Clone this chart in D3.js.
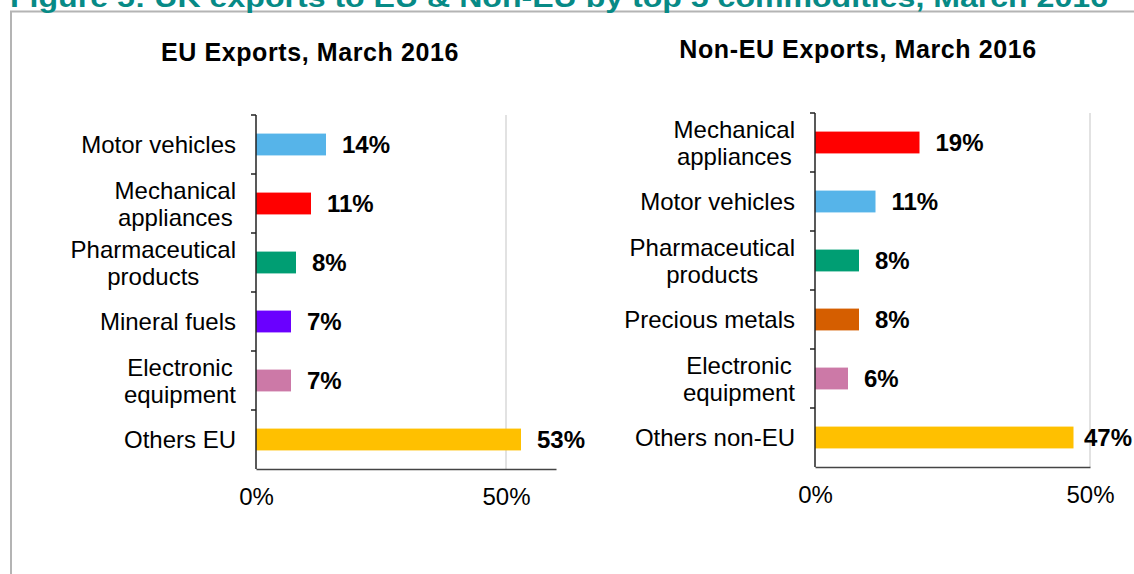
<!DOCTYPE html>
<html>
<head>
<meta charset="utf-8">
<script src="https://cdn.jsdelivr.net/npm/d3@7"></script>
<style>
  body { margin: 0; background: #ffffff; }
  svg { display: block; font-family: "Liberation Sans", Arial, sans-serif; }
</style>
</head>
<body>
<svg id="chart" width="1134" height="574"></svg>
<script>
// Data
const figureTitle = "Figure 5: UK exports to EU & Non-EU by top 5 commodities, March 2016";

const euTitle = "EU Exports, March 2016";
const euCategories = ["Motor vehicles", "Mechanical\nappliances", "Pharmaceutical\nproducts", "Mineral fuels", "Electronic\nequipment", "Others EU"];
const euValues = [14, 11, 8, 7, 7, 53];

const nonEuTitle = "Non-EU Exports, March 2016";
const nonEuCategories = ["Mechanical\nappliances", "Motor vehicles", "Pharmaceutical\nproducts", "Precious metals", "Electronic\nequipment", "Others non-EU"];
const nonEuValues = [19, 11, 8, 8, 6, 47];

const xTicks = [0, 50];

// colour per commodity
const commodityColor = {
    "Motor vehicles": "#56b4e9",
    "Mechanical\nappliances": "#ff0000",
    "Pharmaceutical\nproducts": "#009e73",
    "Mineral fuels": "#6a00ff",
    "Precious metals": "#d55e00",
    "Electronic\nequipment": "#cc79a7",
    "Others EU": "#ffc000",
    "Others non-EU": "#ffc000"
};

const svg = d3.select("#chart");

// frame around the figure
svg.append("path")
    .attr("d", "M11,574 V11.5 H1134")
    .attr("fill", "none")
    .attr("stroke", "#b4b4b4")
    .attr("stroke-width", 2);

// figure title (cut by the top edge in the original)
svg.append("text")
    .attr("x", 10)
    .attr("y", 7)
    .attr("fill", "#078a86")
    .attr("font-weight", "bold")
    .attr("font-size", 27)
    .attr("textLength", 1098)
    .attr("lengthAdjust", "spacingAndGlyphs")
    .text(figureTitle);

function drawPanel(cfg) {
    const g = svg.append("g");

    const x = d3.scaleLinear().domain([0, cfg.xMax]).range([cfg.left, cfg.right]);
    const y = d3.scaleBand().domain(cfg.categories).range([cfg.top, cfg.bottom]).paddingInner(0.63).paddingOuter(0.315);
    const band = d3.scaleBand().domain(cfg.categories).range([cfg.top, cfg.bottom]);

    // panel title
    g.append("text")
        .attr("x", cfg.titleX)
        .attr("y", cfg.titleY)
        .attr("text-anchor", "middle")
        .attr("font-weight", "bold")
        .attr("font-size", 25)
        .attr("letter-spacing", 0.6)
        .attr("fill", "#000")
        .text(cfg.title);

    // 50% gridline
    g.selectAll(".grid")
        .data(xTicks.filter(d => d > 0))
        .join("line")
        .attr("x1", d => x(d)).attr("x2", d => x(d))
        .attr("y1", cfg.top).attr("y2", cfg.bottom)
        .attr("stroke", "#d9d9d9")
        .attr("stroke-width", 1.5);

    // bars
    g.selectAll(".bar")
        .data(cfg.values)
        .join("rect")
        .attr("x", x(0))
        .attr("y", (d, i) => y(cfg.categories[i]))
        .attr("width", d => x(d) - x(0))
        .attr("height", y.bandwidth())
        .attr("fill", (d, i) => commodityColor[cfg.categories[i]]);

    // value labels
    g.selectAll(".val")
        .data(cfg.values)
        .join("text")
        .attr("x", d => x(d) + 16)
        .attr("y", (d, i) => band(cfg.categories[i]) + band.bandwidth() / 2 + 8.5)
        .attr("font-weight", "bold")
        .attr("font-size", 24)
        .attr("fill", "#000")
        .text(d => d + "%")
        .each(function () {
            const w = this.getComputedTextLength();
            const x0 = +this.getAttribute("x");
            if (x0 + w > cfg.labelLimit) this.setAttribute("x", cfg.labelLimit - w);
        });

    // y axis with outward ticks at band edges
    const yAxis = g.append("g");
    yAxis.append("line")
        .attr("x1", x(0)).attr("x2", x(0))
        .attr("y1", cfg.top).attr("y2", cfg.bottom)
        .attr("stroke", "#222").attr("stroke-width", 1.5);
    const edges = cfg.categories.map(c => band(c));
    yAxis.selectAll(".tick")
        .data(edges)
        .join("line")
        .attr("x1", x(0) - 5).attr("x2", x(0))
        .attr("y1", d => d).attr("y2", d => d)
        .attr("stroke", "#222").attr("stroke-width", 1.5);

    // category labels: lines centred on each other, block right-aligned
    cfg.categories.forEach(c => {
        const lines = c.split("\n");
        const t = g.append("text")
            .attr("font-size", 24)
            .attr("fill", "#000")
            .attr("text-anchor", "middle");
        const cy = band(c) + band.bandwidth() / 2 + 8.5;
        lines.forEach((l, i) => {
            t.append("tspan")
                .attr("y", cy + (i - (lines.length - 1) / 2) * 27)
                .text(l);
        });
        let maxW = 0;
        t.selectAll("tspan").each(function () { maxW = Math.max(maxW, this.getComputedTextLength()); });
        t.selectAll("tspan").attr("x", x(0) - 20 - maxW / 2);
    });

    // x axis
    const xAxis = d3.axisBottom(x)
        .tickValues(xTicks)
        .tickSize(0)
        .tickPadding(19)
        .tickFormat(d => d + "%");
    const ax = g.append("g")
        .attr("transform", `translate(0,${cfg.bottom})`)
        .call(xAxis);
    ax.select(".domain").attr("stroke", "#444").attr("stroke-width", 1.5);
    ax.selectAll("text")
        .attr("font-size", 24)
        .attr("font-family", "Liberation Sans, Arial, sans-serif")
        .attr("fill", "#000");
}

drawPanel({
    title: euTitle, titleX: 310, titleY: 61,
    categories: euCategories, values: euValues,
    left: 256, right: 556, xMax: 60,
    top: 115, bottom: 469,
    labelLimit: 1134
});

drawPanel({
    title: nonEuTitle, titleX: 858, titleY: 58,
    categories: nonEuCategories, values: nonEuValues,
    left: 815, right: 1090, xMax: 50,
    top: 113, bottom: 467,
    labelLimit: 1132
});
</script>
</body>
</html>
